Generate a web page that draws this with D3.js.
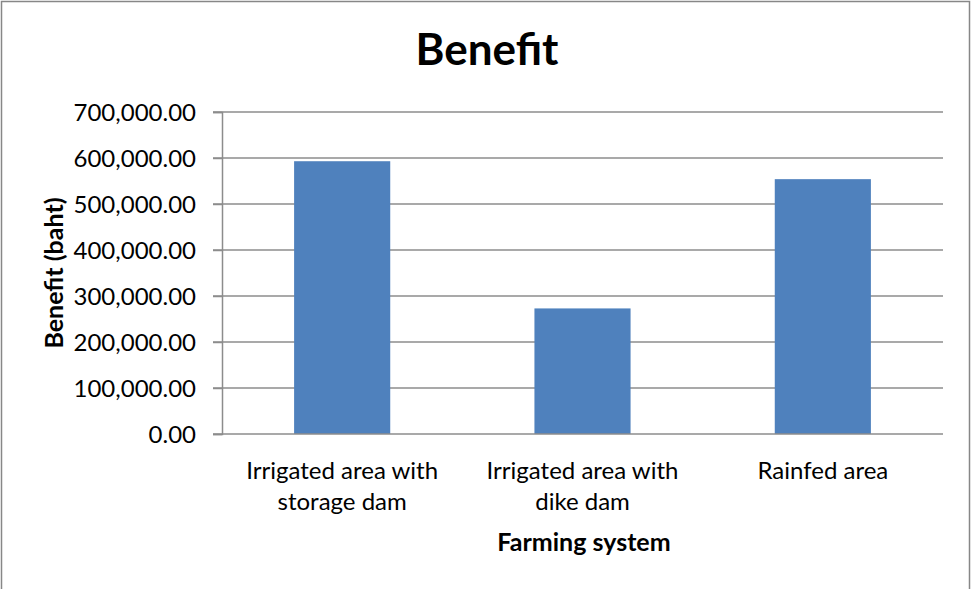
<!DOCTYPE html>
<html>
<head>
<meta charset="utf-8">
<script src="https://cdn.jsdelivr.net/npm/d3@7"></script>
<style>
  html, body { margin: 0; padding: 0; background: #fff; }
  svg { display: block; }
  text { font-family: Lato, "Open Sans", sans-serif; fill: #000; }
</style>
</head>
<body>
<svg id="chart" width="973" height="589"></svg>
<script>
// Benefit by farming system (baht)
const categories = [
  ["Irrigated area with", "storage dam"],
  ["Irrigated area with", "dike dam"],
  ["Rainfed area"]
];
const benefits = [593000, 273000, 554000];
const yTicks = [0, 100000, 200000, 300000, 400000, 500000, 600000, 700000];

const svg = d3.select("#chart");
const W = 973, H = 589;
const plot = { left: 222, right: 943, top: 112, bottom: 434 };

// outer chart frame
svg.append("rect")
  .attr("x", 1.5).attr("y", 1.5)
  .attr("width", 968).attr("height", H + 10)
  .attr("fill", "#fff").attr("stroke", "#878787").attr("stroke-width", 1.5);

const x = d3.scaleBand()
  .domain(d3.range(categories.length))
  .range([plot.left, plot.right])
  .paddingInner(0.6).paddingOuter(0.3);

const y = d3.scaleLinear()
  .domain([0, 700000])
  .range([plot.bottom, plot.top]);

// horizontal gridlines
svg.append("g").selectAll("line")
  .data(yTicks.filter(d => d > 0))
  .join("line")
  .attr("x1", plot.left - 9).attr("x2", plot.right)
  .attr("y1", d => y(d)).attr("y2", d => y(d))
  .attr("stroke", "#8c8c8c").attr("stroke-width", 1.5);

// bars
svg.append("g").selectAll("rect")
  .data(benefits)
  .join("rect")
  .attr("x", (d, i) => x(i))
  .attr("width", x.bandwidth())
  .attr("y", d => y(d))
  .attr("height", d => y(0) - y(d))
  .attr("fill", "#4f81bd");

// y axis
const fmt = d3.format(",.2f");
const yAxis = svg.append("g")
  .attr("transform", `translate(${plot.left},0)`)
  .call(d3.axisLeft(y).tickValues(yTicks).tickFormat(fmt).tickSize(9).tickPadding(17));
yAxis.select(".domain").attr("stroke", "#8c8c8c").attr("stroke-width", 1.5);
yAxis.selectAll(".tick line").attr("stroke", "#8c8c8c").attr("stroke-width", 1.5);
yAxis.selectAll(".tick text")
  .attr("font-family", "Lato, 'Open Sans', sans-serif")
  .attr("font-size", 24).attr("fill", "#000")
  .attr("dy", "0.36em");

// x axis baseline
svg.append("line")
  .attr("x1", plot.left - 9).attr("x2", plot.right)
  .attr("y1", plot.bottom).attr("y2", plot.bottom)
  .attr("stroke", "#8c8c8c").attr("stroke-width", 1.5);

// category labels
const catG = svg.append("g").selectAll("text")
  .data(categories)
  .join("text")
  .attr("text-anchor", "middle")
  .attr("font-size", 24)
  .attr("transform", (d, i) => `translate(${x(i) + x.bandwidth() / 2},479)`);
catG.selectAll("tspan")
  .data(d => d)
  .join("tspan")
  .attr("x", 0)
  .attr("dy", (d, i) => i === 0 ? 0 : 31)
  .text(d => d);

// title
svg.append("text")
  .attr("x", 487).attr("y", 65)
  .attr("text-anchor", "middle")
  .attr("font-size", 44).attr("font-weight", "bold")
  .text("Benefit");

// axis titles
svg.append("text")
  .attr("x", 584).attr("y", 551)
  .attr("text-anchor", "middle")
  .attr("font-size", 25).attr("font-weight", "bold")
  .text("Farming system");

svg.append("text")
  .attr("transform", "translate(63,273) rotate(-90)")
  .attr("text-anchor", "middle")
  .attr("font-size", 25).attr("font-weight", "bold")
  .text("Benefit (baht)");
</script>
</body>
</html>
